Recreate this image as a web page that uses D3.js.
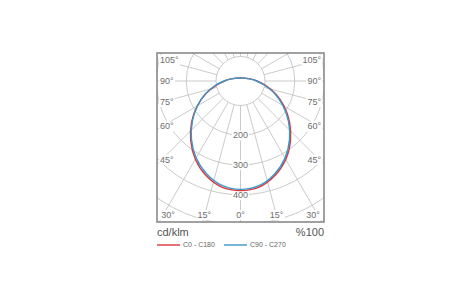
<!DOCTYPE html>
<html>
  <head>
    <style>
      body { margin: 0; background: #fff; }
      svg text { font-family: "Liberation Sans", Arial, sans-serif; }
    </style>
    <script src="https://cdn.jsdelivr.net/npm/d3@7/dist/d3.min.js"></script>
  </head>
  <body>
    <script>
      // luminous intensity, cd/klm, per C-plane, gamma 0..180 step 10
      const gammas = [0, 10, 20, 30, 40, 50, 60, 70, 80, 90, 100, 110, 120, 130, 140, 150, 160, 170, 180];
      const c0   = [386, 380, 356, 322, 279, 233, 187, 143, 103, 73, 54, 42, 36, 33, 30, 29, 28, 28, 28];
      const c180 = [386, 380, 356, 321, 278, 232, 185, 141, 101, 71, 53, 42, 36, 33, 30, 29, 28, 28, 28];
      const c90  = [382, 375, 351, 317, 274, 228, 182, 139, 100, 71, 53, 42, 36, 33, 30, 29, 28, 28, 28];
      const c270 = [382, 374, 350, 316, 274, 229, 185, 143, 104, 73, 54, 42, 36, 33, 30, 29, 28, 28, 28];

      const ringValues = [100, 200, 300, 400, 500];
      const ringLabels = [200, 300, 400];
      const spokeAngles = [0, 15, 30, 45, 60, 75, 90, 105, 120, 135, 150, 165, 180];
      const sideLabels = [45, 60, 75, 90, 105];
      const bottomLabels = [0, 15, 30];
      const unitLabel = 'cd/klm';
      const scaleLabel = '%100';
      const legendNames = ['C0 - C180', 'C90 - C270'];
      const colors = ['#e0343a', '#3a97c9'];

      const width = 460, height = 300;
      const frame = {left: 157, right: 324, top: 53, bottom: 222};
      const cx = 240.5, cy = 81;

      const svg = d3.select('body').append('svg')
        .attr('width', width).attr('height', height);

      const r = d3.scaleLinear().domain([100, 500]).range([24.5, 143.5]);

      svg.append('clipPath').attr('id', 'clip')
        .append('rect')
        .attr('x', frame.left).attr('y', frame.top)
        .attr('width', frame.right - frame.left).attr('height', frame.bottom - frame.top);

      const grid = svg.append('g').attr('clip-path', 'url(#clip)');

      grid.selectAll('circle')
        .data(ringValues)
        .join('circle')
        .attr('cx', cx).attr('cy', cy)
        .attr('r', d => r(d))
        .attr('fill', 'none')
        .attr('stroke', '#c4c4c4')
        .attr('stroke-width', 0.9);

      // spokes both sides, starting at the inner ring
      const spokes = [];
      spokeAngles.forEach(a => { spokes.push([a, 1]); if (a > 0 && a < 180) spokes.push([a, -1]); });
      const rIn = r(100), rOut = 300;
      grid.selectAll('line.spoke')
        .data(spokes)
        .join('line')
        .attr('class', 'spoke')
        .attr('x1', d => cx + d[1] * rIn * Math.sin(d[0] * Math.PI / 180))
        .attr('y1', d => cy + rIn * Math.cos(d[0] * Math.PI / 180))
        .attr('x2', d => cx + d[1] * rOut * Math.sin(d[0] * Math.PI / 180))
        .attr('y2', d => cy + rOut * Math.cos(d[0] * Math.PI / 180))
        .attr('stroke', '#c4c4c4')
        .attr('stroke-width', 0.9);

      // labels with white boxes
      const labelG = svg.append('g');
      function label(x, y, txt, anchor) {
        const g = labelG.append('g');
        const t = g.append('text')
          .attr('x', x).attr('y', y)
          .attr('dy', '0.35em')
          .attr('text-anchor', anchor || 'middle')
          .attr('font-size', 9)
          .attr('fill', '#6e6e6e')
          .text(txt);
        const b = t.node().getBBox();
        g.insert('rect', 'text')
          .attr('x', b.x - 1).attr('y', b.y)
          .attr('width', b.width + 2).attr('height', b.height)
          .attr('fill', '#fff');
      }

      ringLabels.forEach(v => label(cx, cy + r(v), v));

      const halfW = frame.right - cx - 5;
      sideLabels.forEach(a => {
        const y = cy + halfW / Math.tan(a * Math.PI / 180);
        label(frame.left + 3, y, a + '°', 'start');
        label(frame.right - 3, y, a + '°', 'end');
      });

      const dyB = frame.bottom - cy - 6;
      bottomLabels.forEach(a => {
        const dx = dyB * Math.tan(a * Math.PI / 180);
        const y = frame.bottom - 7;
        if (a === 0) { label(cx, y, a + '°'); return; }
        label(Math.max(cx - dx, frame.left + 11), y, a + '°');
        label(Math.min(cx + dx, frame.right - 11), y, a + '°');
      });

      // curves: left half (C180 / C270) then right half (C0 / C90)
      const line = d3.line().x(d => d[0]).y(d => d[1]).curve(d3.curveCatmullRom);
      function pts(left, right) {
        const p = [];
        for (let i = gammas.length - 1; i >= 0; i--) {
          const g = gammas[i] * Math.PI / 180;
          p.push([cx - r(left[i]) * Math.sin(g), cy + r(left[i]) * Math.cos(g)]);
        }
        for (let i = 1; i < gammas.length; i++) {
          const g = gammas[i] * Math.PI / 180;
          p.push([cx + r(right[i]) * Math.sin(g), cy + r(right[i]) * Math.cos(g)]);
        }
        return p;
      }
      const curves = [pts(c180, c0), pts(c270, c90)];
      svg.append('g')
        .selectAll('path')
        .data(curves)
        .join('path')
        .attr('d', d => line(d))
        .attr('fill', 'none')
        .attr('stroke', (d, i) => colors[i])
        .attr('stroke-width', 1.4);

      svg.append('rect')
        .attr('x', frame.left).attr('y', frame.top)
        .attr('width', frame.right - frame.left).attr('height', frame.bottom - frame.top)
        .attr('fill', 'none')
        .attr('stroke', '#8a8a8a')
        .attr('stroke-width', 1.6);

      svg.append('text')
        .attr('x', frame.left).attr('y', 236)
        .attr('font-size', 11).attr('fill', '#555')
        .text(unitLabel);
      svg.append('text')
        .attr('x', frame.right).attr('y', 236)
        .attr('text-anchor', 'end')
        .attr('font-size', 11).attr('fill', '#555')
        .text(scaleLabel);

      const legendX = [157, 224];
      legendNames.forEach((n, i) => {
        svg.append('line')
          .attr('x1', legendX[i]).attr('x2', legendX[i] + 23)
          .attr('y1', 245).attr('y2', 245)
          .attr('stroke', colors[i]).attr('stroke-width', 1.4);
        svg.append('text')
          .attr('x', legendX[i] + 26).attr('y', 245)
          .attr('dy', '0.35em')
          .attr('font-size', 7).attr('fill', '#666')
          .text(n);
      });
    </script>
  </body>
</html>
